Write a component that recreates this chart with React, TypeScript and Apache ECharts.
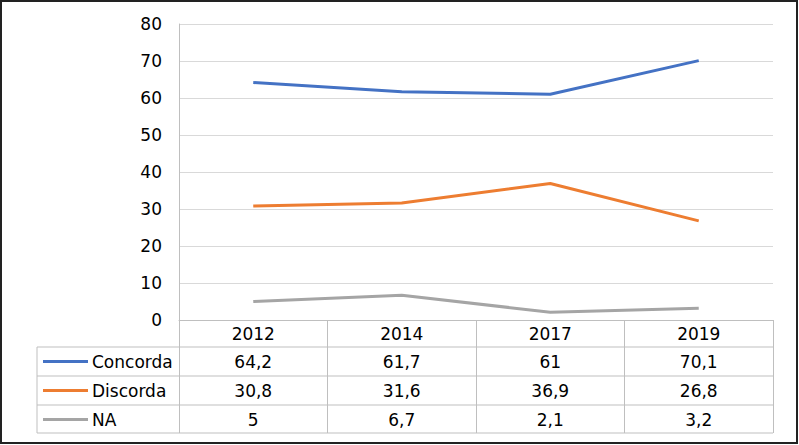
import React, { useEffect, useRef } from "react";
import * as echarts from "echarts";

const years = ["2012", "2014", "2017", "2019"];
const seriesNames = ["Concorda", "Discorda", "NA"];
const concorda = [64.2, 61.7, 61, 70.1];
const discorda = [30.8, 31.6, 36.9, 26.8];
const na = [5, 6.7, 2.1, 3.2];
const yTicks = [0, 10, 20, 30, 40, 50, 60, 70, 80];

const colors = ["#4472C4", "#ED7D31", "#A5A5A5"];
const FONT = "'DejaVu Sans', Verdana, sans-serif";

// table geometry (px)
const plotLeft = 179;
const plotRight = 773;
const plotTop = 24;
const plotBottom = 320;
const rowH = 29;
const headerBottom = 347;
const tableLeft = 37;

const fmt = (v: number) => String(v).replace(".", ",");

const App = () => {
  const ref = useRef<HTMLDivElement>(null);

  useEffect(() => {
    if (!ref.current) return;
    const chart = echarts.init(ref.current, null, { renderer: "svg" });
    const allData = [concorda, discorda, na];
    const gridLine = "#BFBFBF";

    const rowAxes = allData.map((d, i) => ({
      type: "category",
      gridIndex: 0,
      position: "bottom",
      offset: headerBottom - plotBottom + rowH * i + rowH / 2,
      data: d.map(fmt),
      boundaryGap: true,
      axisLine: { show: false },
      axisTick: { show: false },
      axisLabel: {
        margin: 0,
        verticalAlign: "middle",
        fontFamily: FONT,
        fontSize: 17,
        color: "#000",
      },
    }));

    const hLines = [0, 1, 2, 3].map((i) => ({
      type: "line",
      shape: {
        x1: tableLeft,
        y1: headerBottom + rowH * i - (i === 3 ? 1 : 0),
        x2: plotRight,
        y2: headerBottom + rowH * i - (i === 3 ? 1 : 0),
      },
      style: { stroke: gridLine, lineWidth: 1 },
      silent: true,
    }));

    chart.setOption({
      animation: false,
      grid: {
        left: plotLeft,
        right: 799 - plotRight,
        top: plotTop,
        bottom: 445 - plotBottom,
      },
      legend: {
        orient: "vertical",
        left: tableLeft + 6,
        top: headerBottom,
        padding: 0,
        itemGap: 0,
        itemWidth: 45,
        itemHeight: 3,
        icon: "rect",
        selectedMode: false,
        data: seriesNames,
        textStyle: {
          fontFamily: FONT,
          fontSize: 17,
          color: "#000",
          lineHeight: rowH,
          padding: [0, 0, 0, -1],
        },
      },
      xAxis: [
        {
          type: "category",
          data: years,
          boundaryGap: true,
          axisLine: { show: true, lineStyle: { color: gridLine, width: 1 } },
          axisTick: {
            show: true,
            length: 4 * rowH - 3,
            lineStyle: { color: gridLine, width: 1 },
          },
          axisLabel: {
            margin: (headerBottom - plotBottom) / 2,
            verticalAlign: "middle",
            fontFamily: FONT,
            fontSize: 17,
            color: "#000",
          },
        },
        ...rowAxes,
      ],
      yAxis: {
        type: "value",
        min: yTicks[0],
        max: yTicks[yTicks.length - 1],
        interval: 10,
        axisLine: { show: true, lineStyle: { color: gridLine, width: 1 } },
        axisTick: { show: false },
        splitLine: { lineStyle: { color: "#D9D9D9", width: 1 } },
        axisLabel: {
          margin: 17,
          fontFamily: FONT,
          fontSize: 17,
          color: "#000",
        },
      },
      series: allData.map((d, i) => ({
        name: seriesNames[i],
        type: "line",
        data: d,
        symbol: "none",
        color: colors[i],
        lineStyle: { width: 3, color: colors[i] },
      })),
      graphic: [
        ...hLines,
        {
          type: "line",
          shape: { x1: tableLeft, y1: headerBottom, x2: tableLeft, y2: headerBottom + 3 * rowH - 1 },
          style: { stroke: gridLine, lineWidth: 1 },
          silent: true,
        },
        {
          type: "rect",
          shape: { x: 1, y: 1, width: 796, height: 442 },
          style: { fill: "none", stroke: "#222", lineWidth: 2 },
          silent: true,
        },
      ],
    });

    return () => {
      chart.dispose();
    };
  }, []);

  return (
    <div
      ref={ref}
      style={{ position: "fixed", left: 0, top: 0, width: 799, height: 445, background: "#fff" }}
    />
  );
};

export default App;
